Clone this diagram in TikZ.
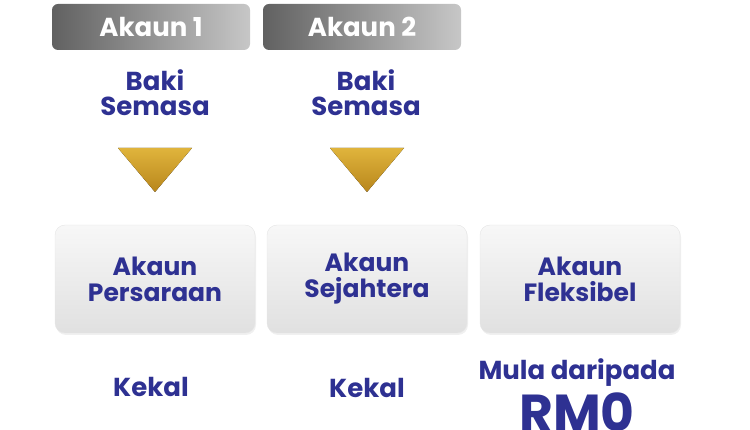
\documentclass[tikz,border=0pt]{standalone}
\usepackage{fontspec}
\setmainfont{Poppins}
\usetikzlibrary{shadows}
\definecolor{navy}{HTML}{2E3192}
\definecolor{gold1}{HTML}{E0B43C}
\definecolor{gold2}{HTML}{B8861C}
\begin{document}
\begin{tikzpicture}[x=1pt,y=-1pt,
  tab/.style={rounded corners=6pt,left color=black!62,right color=black!22,minimum width=198pt,minimum height=46pt,text=white,font=\bfseries\fontsize{26}{26}\selectfont},
  lbl/.style={text=navy,font=\bfseries\fontsize{26}{25}\selectfont,align=center,inner sep=0pt},
  card/.style={rounded corners=10pt,draw=black!10,top color=black!3,bottom color=black!12,minimum width=200pt,minimum height=108pt,text=navy,font=\bfseries\fontsize{25}{26}\selectfont,align=center,drop shadow={opacity=0.12,shadow xshift=1pt,shadow yshift=-2pt}}]
\useasboundingbox (0,0) rectangle (750,430);
\node[tab] (t1) at (151,27) {Akaun 1};
\node[tab] (t2) at (362,27) {Akaun 2};
\node[lbl] (b1) at (155,93) {Baki\\Semasa};
\node[lbl] (b2) at (366,93) {Baki\\Semasa};
\fill[top color=gold1,bottom color=gold2] (118,148) -- (192,148) -- (155,192) -- cycle;
\fill[top color=gold1,bottom color=gold2] (330,148) -- (404,148) -- (367,192) -- cycle;
\node[card] (c1) at (155,279) {Akaun\\Persaraan};
\node[card] (c2) at (367,279) {Akaun\\Sejahtera};
\node[card] (c3) at (580,279) {Akaun\\Fleksibel};
\node[lbl] (k1) at (151,387) {Kekal};
\node[lbl] (k2) at (367,388) {Kekal};
\node[lbl] (m) at (577,373) {Mula daripada};
\node[text=navy,font=\bfseries\fontsize{52}{52}\selectfont,inner sep=0pt] (rm) at (577,412) {RM0};
\end{tikzpicture}
\end{document}
